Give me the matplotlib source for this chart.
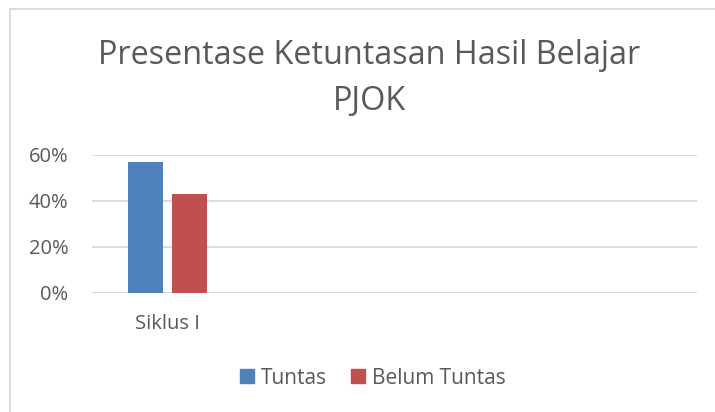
import matplotlib.pyplot as plt
import matplotlib.patches as mpatches
from matplotlib.ticker import PercentFormatter

# data
categories = ['Siklus I', '', '', '']
tuntas = [0.57, None, None, None]
belum_tuntas = [0.43, None, None, None]
series_names = ['Tuntas', 'Belum Tuntas']
colors = ['#4f81bd', '#c0504d']
yticks = [0, 0.2, 0.4, 0.6]

plt.rcParams['font.family'] = ['Open Sans', 'DejaVu Sans']
text_color = '#595959'

fig = plt.figure(figsize=(7.15, 4.12), dpi=100, facecolor='white')
ax = fig.add_axes([92 / 715, 1 - 293 / 412, 605 / 715, 138 / 412])

x = list(range(len(categories)))
w = 0.23
off = 0.145
for i, cat in enumerate(categories):
    if tuntas[i] is not None:
        ax.bar(i - off, tuntas[i], width=w, color=colors[0], zorder=3)
    if belum_tuntas[i] is not None:
        ax.bar(i + off, belum_tuntas[i], width=w, color=colors[1], zorder=3)

ax.set_xlim(-0.5, len(categories) - 0.5)
ax.set_ylim(0, 0.6)
ax.set_yticks(yticks)
ax.yaxis.set_major_formatter(PercentFormatter(1.0, decimals=0))
ax.set_xticks(x)
ax.set_xticklabels(categories)
ax.tick_params(axis='both', length=0, labelsize=14.5, colors=text_color)
ax.tick_params(axis='y', pad=17)
ax.tick_params(axis='x', pad=15)
ax.grid(axis='y', color='#d9d9d9', linewidth=1.3, zorder=0)
for s in ax.spines.values():
    s.set_visible(False)
ax.axhline(0, color='#d9d9d9', linewidth=1.3, zorder=2)

fig.text(369 / 715, 1 - 56 / 412, 'Presentase Ketuntasan Hasil Belajar',
         ha='center', va='center', fontsize=23.3, color=text_color)
fig.text(370 / 715, 1 - 101 / 412, 'PJOK',
         ha='center', va='center', fontsize=23.3, color=text_color)

handles = [mpatches.Patch(color=c, label=n) for c, n in zip(colors, series_names)]
fig.legend(handles=handles, loc='center', bbox_to_anchor=(373 / 715, 1 - 378 / 412),
           ncol=2, frameon=False, fontsize=15, labelcolor=text_color,
           handlelength=0.65, handleheight=0.65, handletextpad=0.35, columnspacing=1.15)

# chart-area border
fig.patches.append(mpatches.Rectangle((9.5 / 715, -0.1), 1.2, 1 - 9.5 / 412 + 0.1,
                                      transform=fig.transFigure, fill=False,
                                      edgecolor='#d9d9d9', linewidth=1.3))

fig.savefig('out.png', dpi=100, facecolor='white')
